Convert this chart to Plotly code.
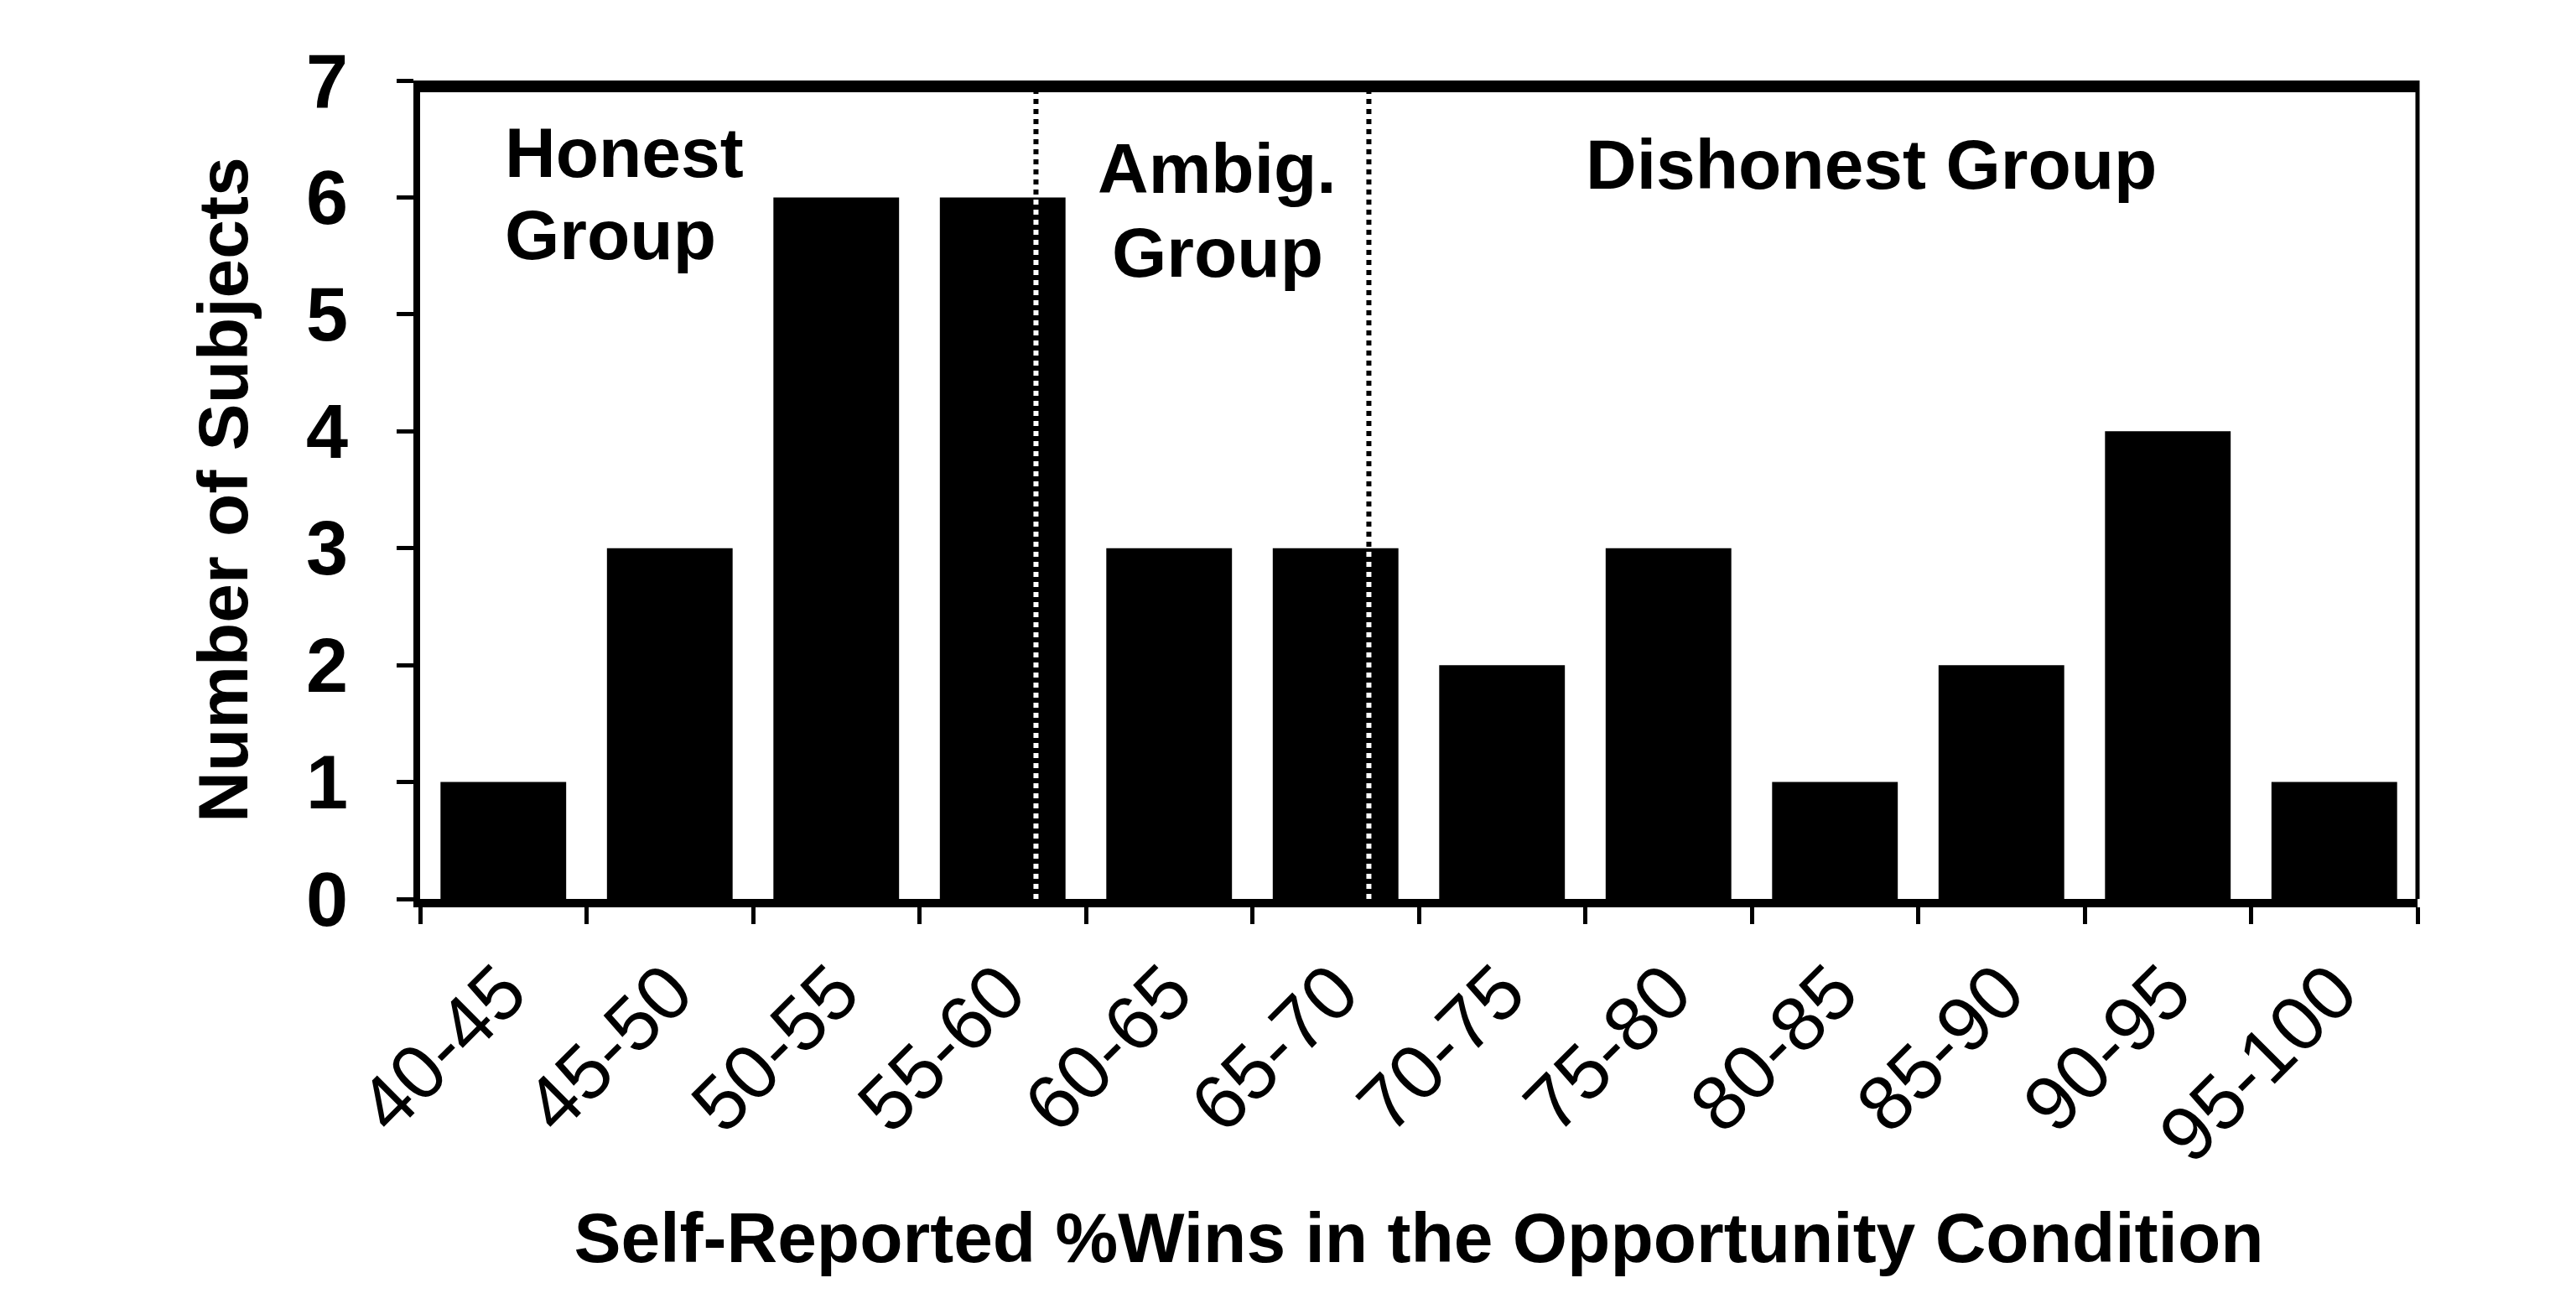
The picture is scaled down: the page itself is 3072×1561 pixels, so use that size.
import plotly.graph_objects as go

# ---- data ----
categories = ["40-45", "45-50", "50-55", "55-60", "60-65", "65-70",
              "70-75", "75-80", "80-85", "85-90", "90-95", "95-100"]
counts = [1, 3, 6, 6, 3, 3, 2, 3, 1, 2, 4, 1]
y_ticks = [0, 1, 2, 3, 4, 5, 6, 7]
group_bounds = [3.2, 5.2]          # category-index position of group dividers
x_title = "Self-Reported %Wins in the Opportunity Condition"
y_title = "Number of Subjects"

FONT = "Liberation Sans, Arial, sans-serif"

fig = go.Figure()
fig.add_trace(go.Bar(
    x=categories, y=counts,
    marker=dict(color="black", line=dict(width=0)),
    showlegend=False,
))

# group divider lines: black dotted over background, white dotted over the bars
for b in group_bounds:
    fig.add_shape(type="line", xref="x", yref="y", x0=b, x1=b, y0=0, y1=7,
                  line=dict(color="black", width=6, dash="dot"), layer="above")
    fig.add_shape(type="line", xref="x", yref="y", x0=b, x1=b, y0=0,
                  y1=counts[int(round(b))],
                  line=dict(color="white", width=6, dash="dot"), layer="above")

# thick top border and thin right border
fig.add_shape(type="line", xref="paper", yref="y", x0=-0.003, x1=1.0, y0=7, y1=7,
              line=dict(color="black", width=28), layer="above")
fig.add_shape(type="line", xref="paper", yref="y", x0=1.0, x1=1.0, y0=0, y1=7,
              line=dict(color="black", width=5), layer="above")

ann_font = dict(family=FONT, size=84, color="black", weight="bold")
annotations = [
    dict(text="Honest", x=0.0, y=6.38, xanchor="left"),
    dict(text="Group", x=0.0, y=5.68, xanchor="left"),
    dict(text="Ambig.", x=4.29, y=6.25, xanchor="center"),
    dict(text="Group", x=4.29, y=5.53, xanchor="center"),
    dict(text="Dishonest Group", x=8.22, y=6.28, xanchor="center"),
]
for a in annotations:
    fig.add_annotation(text=a["text"], x=a["x"], y=a["y"], xref="x", yref="y",
                       xanchor=a["xanchor"], yanchor="middle", showarrow=False,
                       font=ann_font)

fig.update_layout(
    width=3072, height=1561,
    margin=dict(l=493, r=197, t=88, b=497, autoexpand=False),
    paper_bgcolor="white", plot_bgcolor="white",
    bargap=0.245,
    font=dict(family=FONT, color="black"),
    xaxis=dict(
        type="category",
        categoryorder="array", categoryarray=categories,
        showline=True, linecolor="black", linewidth=10,
        ticks="outside", tickson="boundaries", ticklen=20, tickwidth=5,
        tickcolor="black",
        tickangle=-45, ticklabelstandoff=10,
        tickfont=dict(family=FONT, size=92, color="black"),
        showgrid=False, zeroline=False,
        title=dict(text=x_title, standoff=46,
                   font=dict(family=FONT, size=84, color="black", weight="bold")),
    ),
    yaxis=dict(
        range=[0, 7], tickvals=y_ticks,
        showline=True, linecolor="black", linewidth=8,
        ticks="outside", ticklen=20, tickwidth=5, tickcolor="black",
        ticklabelstandoff=40,
        tickfont=dict(family=FONT, size=90, color="black", weight="bold"),
        showgrid=False, zeroline=False,
        title=dict(text=y_title, standoff=45,
                   font=dict(family=FONT, size=84, color="black", weight="bold")),
    ),
)

fig.write_html("out.html")
